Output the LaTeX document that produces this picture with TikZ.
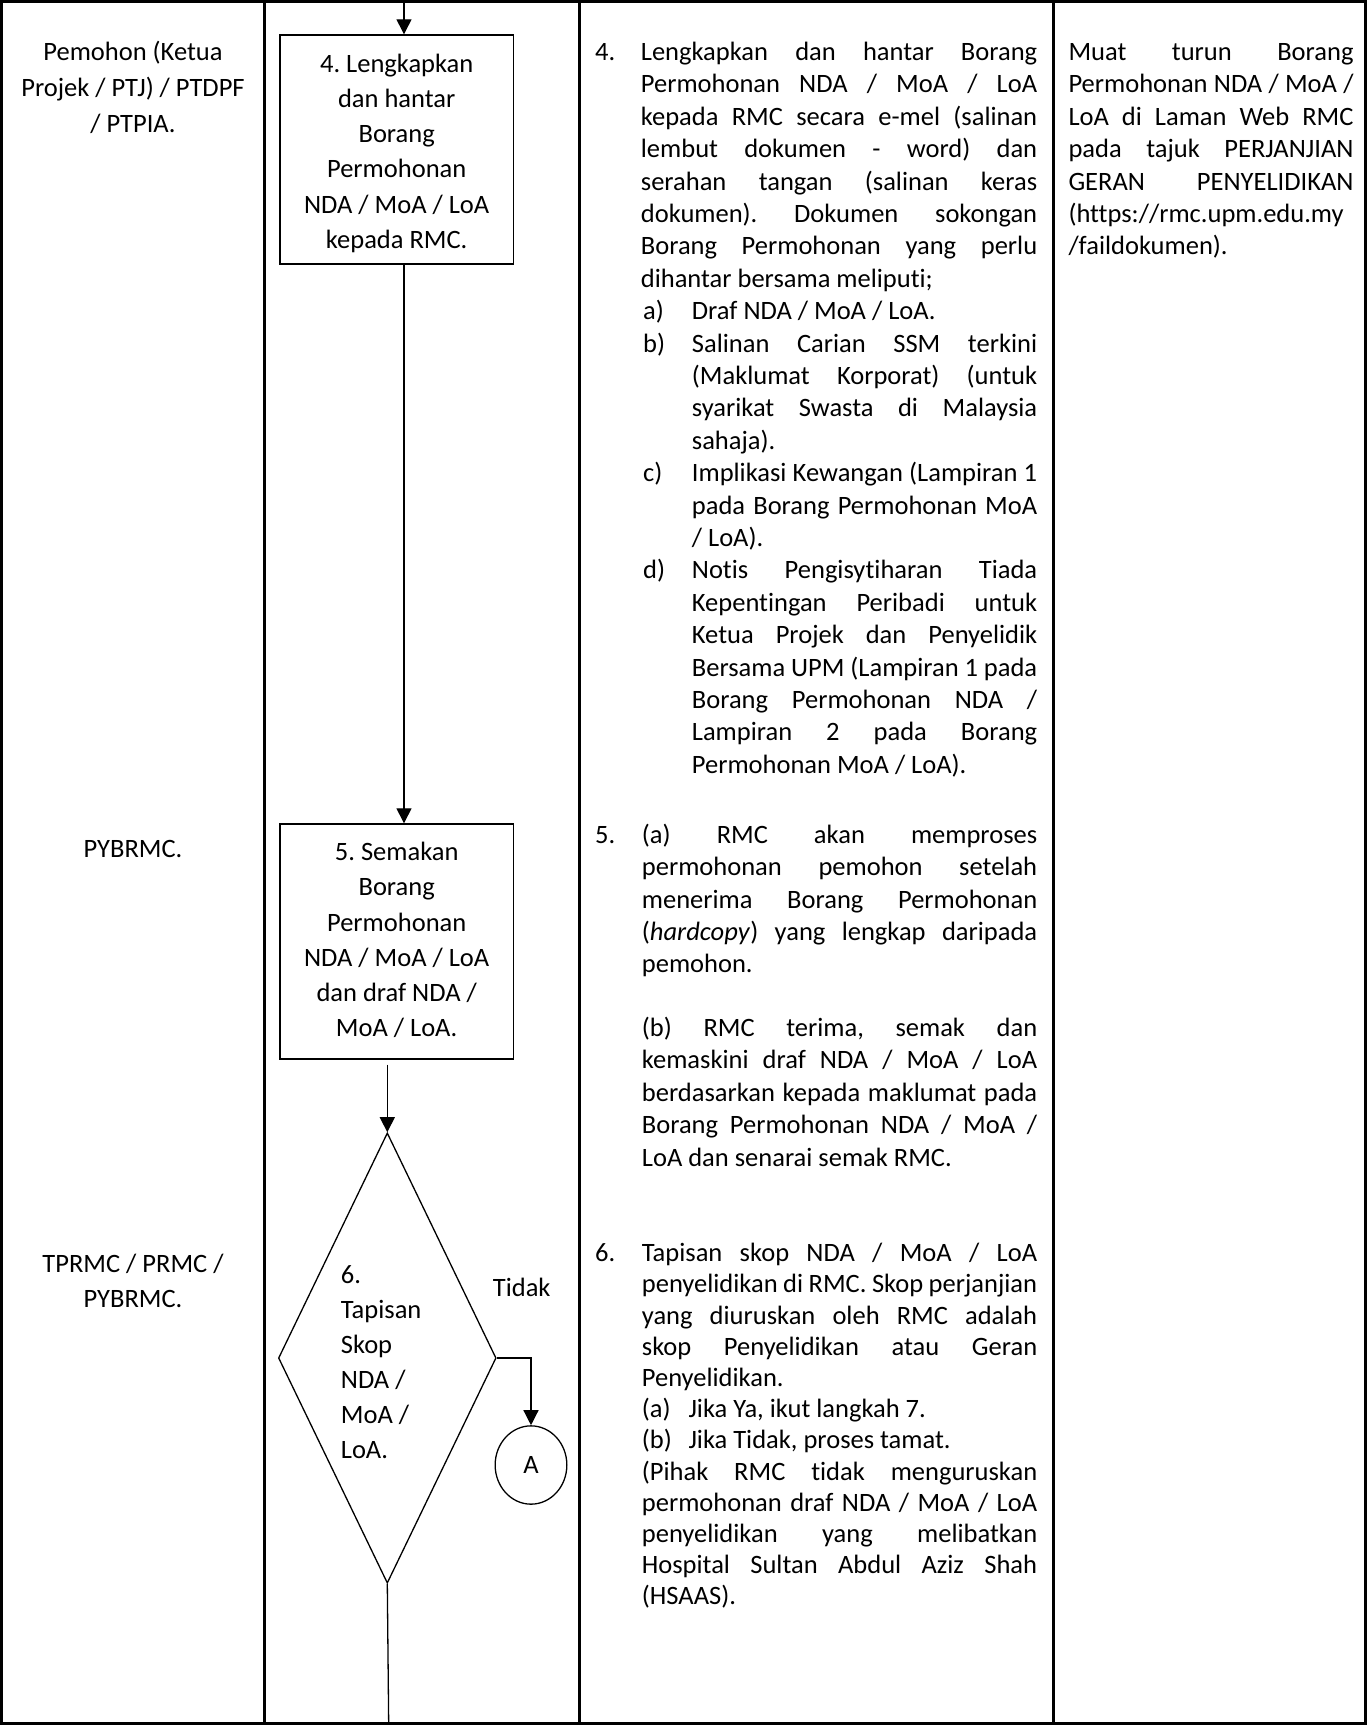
\documentclass[tikz,border=0pt]{standalone}
\usepackage{fontspec}
\setmainfont{Carlito}[Ligatures=NoCommon]
\usetikzlibrary{arrows.meta,shapes.geometric}
\newcommand\myfs[1]{\fontsize{26.5pt}{#1pt}\selectfont}
\frenchspacing
\tolerance=10000
\hbadness=10000
\hfuzz=20pt
\hyphenpenalty=10000
\exhyphenpenalty=10000
\tikzset{
  frameline/.style={line width=2.7pt},
  stepbox/.style={draw, line width=1.4pt, inner sep=0pt, text width=233.4pt, align=flush center, anchor=north west, font=\myfs{35.2}},
  conn/.style={line width=1.3pt, -{Triangle[width=15pt,length=15pt]}},
  plainline/.style={line width=1.3pt},
  para/.style={inner sep=0pt, anchor=base west, align=justify, font=\myfs{32.4}},
  parasix/.style={inner sep=0pt, anchor=base west, align=justify, font=\myfs{31.2}, text width=395.3pt},
  lbl/.style={inner sep=0pt, anchor=base west, font=\myfs{32.4}},
  ctr/.style={inner sep=0pt, anchor=base, align=flush center, text width=255pt, font=\myfs{36}},
}
\begin{document}
\begin{tikzpicture}[x=1pt,y=-1pt]
\useasboundingbox (0,0) rectangle (1367,1725);
% table frame and column lines
\draw[frameline] (1.35,1.35) rectangle (1365.65,1723.65);
\draw[frameline] (264.3,0) -- (264.3,1725);
\draw[frameline] (579.5,0) -- (579.5,1725);
\draw[frameline] (1053.3,0) -- (1053.3,1725);

% column 1: responsible parties
\node[ctr] (who4) at (133,60.2) {Pemohon (Ketua\\Projek / PTJ) / PTDPF\\/ PTPIA.};
\node[ctr] (who5) at (133,857.8) {PYBRMC.};
\node[ctr, font=\myfs{35}] (who6) at (133,1272) {TPRMC / PRMC /\\PYBRMC.};

% column 2: flow chart
\node[stepbox, text height=37.2pt, text depth=191.8pt] (b4) at (279.3,34.3)
  {4. Lengkapkan\\dan hantar\\Borang\\Permohonan\\NDA / MoA / LoA\\kepada RMC.};
\node[stepbox, text height=36.7pt, text depth=198.3pt] (b5) at (279.3,823.3)
  {5. Semakan\\Borang\\Permohonan\\NDA / MoA / LoA\\dan draf NDA /\\MoA / LoA.};
\node[diamond, draw, line width=1.3pt, minimum width=217.7pt, minimum height=450.3pt, inner sep=0pt] (d6) at (387.3,1358) {};
\node[lbl, text width=140pt, align=flush left, font=\myfs{35}] (d6t) at (340.7,1283)
  {6.\\Tapisan\\Skop\\NDA /\\MoA /\\LoA.};
\node[lbl] (tidak) at (492.7,1296) {Tidak};
\node[draw, ellipse, line width=1.3pt, minimum width=71.7pt, minimum height=78.3pt, inner sep=0pt, font=\myfs{32}] (cA) at (531,1465) {A};

\coordinate (top) at (404,0);
\coordinate (bot) at (388.7,1725);
\draw[conn] (top) -- (top |- b4.north);
\draw[conn] (b4.south -| top) -- (b5.north -| top);
\draw[conn] (b5.south -| d6.north) ++(0,5) -- (d6.north);
\draw[conn] (d6.east) -| (cA.north);
\draw[plainline] (d6.south) -- (bot);

% column 3: descriptions
\node[lbl] (n4) at (595,60.5) {4.};
\node[para, text width=396.3pt] (p4) at (640.7,60.5) {Lengkapkan dan hantar Borang\linebreak Permohonan NDA / MoA / LoA\linebreak kepada RMC secara e-mel (salinan\linebreak lembut dokumen - word) dan\linebreak serahan tangan (salinan keras\linebreak dokumen). Dokumen sokongan\linebreak Borang Permohonan yang perlu\linebreak dihantar bersama meliputi;};
\node[lbl] (la) at (643,319.7) {a)};
\node[para, text width=345.3pt] (ia) at (691.7,319.7) {Draf NDA / MoA / LoA.};
\node[lbl] (lb) at (643,352.1) {b)};
\node[para, text width=345.3pt] (ib) at (691.7,352.1) {Salinan Carian SSM terkini\linebreak (Maklumat Korporat) (untuk\linebreak syarikat Swasta di Malaysia\linebreak sahaja).};
\node[lbl] (lc) at (643,481.7) {c)};
\node[para, text width=345.3pt] (ic) at (691.7,481.7) {Implikasi Kewangan (Lampiran 1\linebreak pada Borang Permohonan MoA\linebreak / LoA).};
\node[lbl] (ld) at (643,578.9) {d)};
\node[para, text width=345.3pt] (id) at (691.7,578.9) {Notis Pengisytiharan Tiada\linebreak Kepentingan Peribadi untuk\linebreak Ketua Projek dan Penyelidik\linebreak Bersama UPM (Lampiran 1 pada\linebreak Borang Permohonan NDA /\linebreak Lampiran 2 pada Borang\linebreak Permohonan MoA / LoA).};

\node[lbl] (n5) at (595,843.3) {5.};
\node[para, text width=395.3pt] (p5a) at (641.7,843.3) {(a) RMC akan memproses\linebreak permohonan pemohon setelah\linebreak menerima Borang Permohonan\linebreak (\textit{hardcopy}) yang lengkap daripada\linebreak pemohon.};
\node[para, text width=395.3pt] (p5b) at (641.7,1036.5) {(b) RMC terima, semak dan\linebreak kemaskini draf NDA / MoA / LoA\linebreak berdasarkan kepada maklumat pada\linebreak Borang Permohonan NDA / MoA /\linebreak LoA dan senarai semak RMC.};

\node[lbl] (n6) at (595,1261.6) {6.};
\node[parasix] (p6) at (641.7,1261.6) {Tapisan skop NDA / MoA / LoA\linebreak penyelidikan di RMC. Skop perjanjian\linebreak yang diuruskan oleh RMC adalah\linebreak skop Penyelidikan atau Geran\linebreak Penyelidikan.};
\node[lbl] (l6a) at (641.7,1417.6) {(a)};
\node[lbl] (t6a) at (688.3,1417.6) {Jika Ya, ikut langkah 7.};
\node[lbl] (l6b) at (641.7,1448.8) {(b)};
\node[lbl] (t6b) at (688.3,1448.8) {Jika Tidak, proses tamat.};
\node[parasix] (p6c) at (641.7,1480) {(Pihak RMC tidak menguruskan\linebreak permohonan draf NDA / MoA / LoA\linebreak penyelidikan yang melibatkan\linebreak Hospital Sultan Abdul Aziz Shah\linebreak (HSAAS).};

% column 4: notes
\node[para, text width=285pt] (w4) at (1068.3,60.5) {Muat turun Borang\linebreak Permohonan NDA / MoA /\linebreak LoA di Laman Web RMC\linebreak pada tajuk PERJANJIAN\linebreak GERAN PENYELIDIKAN\linebreak (https://rmc.upm.edu.my\linebreak /faildokumen).};
\end{tikzpicture}
\end{document}
